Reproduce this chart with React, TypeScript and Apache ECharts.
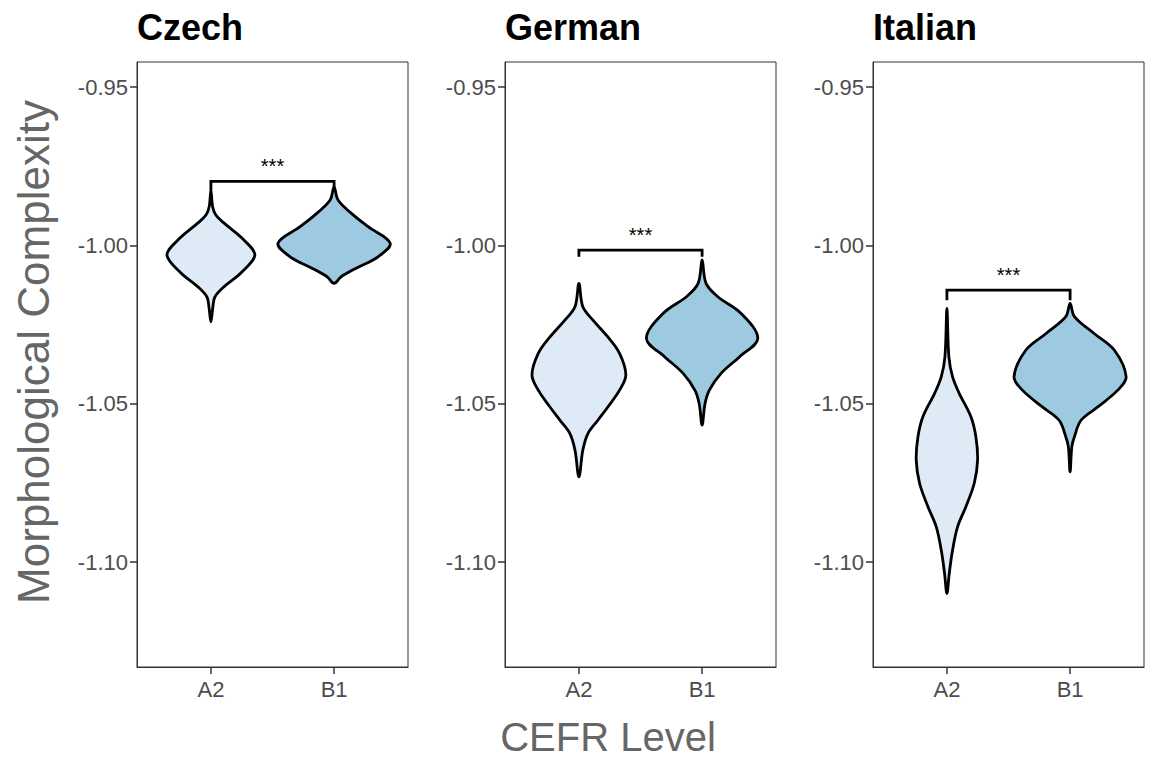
import React, { useEffect, useRef } from "react";
import * as echarts from "echarts";

const panels = ["Czech", "German", "Italian"];
const levels = ["A2", "B1"];
const yTicks = [-1.1, -1.05, -1.0, -0.95];
const xTicks = [1, 2];

// violin profiles: value (y) and half-width (in category units)
const czechA2Value = [-0.9825, -0.9878, -0.9904, -0.9929, -0.9983, -1.0031, -1.0087, -1.0131, -1.0163, -1.0194, -1.0241];
const czechA2Width = [0, 0.014, 0.04, 0.105, 0.268, 0.357, 0.243, 0.105, 0.032, 0.016, 0];
const czechB1Value = [-0.9815, -0.9857, -0.9898, -0.9941, -0.9993, -1.0036, -1.0072, -1.0099, -1.012];
const czechB1Width = [0, 0.032, 0.138, 0.276, 0.455, 0.357, 0.179, 0.057, 0];

const germanA2Value = [-1.012, -1.0194, -1.0236, -1.0289, -1.0341, -1.0409, -1.0457, -1.051, -1.0552, -1.0594, -1.0646, -1.0731];
const germanA2Width = [0, 0.032, 0.114, 0.235, 0.33, 0.381, 0.33, 0.235, 0.154, 0.073, 0.032, 0];
const germanB1Value = [-1.0046, -1.012, -1.0162, -1.0215, -1.0294, -1.0352, -1.0404, -1.0457, -1.0499, -1.0567];
const germanB1Width = [0, 0.032, 0.127, 0.317, 0.452, 0.303, 0.154, 0.059, 0.024, 0];

const italianA2Value = [-1.0199, -1.0352, -1.0415, -1.0467, -1.0541, -1.0604, -1.0678, -1.0751, -1.0825, -1.0888, -1.0962, -1.1036, -1.1099];
const italianA2Width = [0, 0.016, 0.046, 0.1, 0.195, 0.235, 0.249, 0.222, 0.154, 0.087, 0.046, 0.019, 0];
const italianB1Value = [-1.0183, -1.0225, -1.0278, -1.0331, -1.0415, -1.0457, -1.051, -1.0552, -1.0604, -1.0636, -1.0715];
const italianB1Width = [0, 0.035, 0.195, 0.36, 0.455, 0.387, 0.225, 0.089, 0.035, 0.014, 0];

const bracketY = [-0.9798, -1.0015, -1.0141];
const bracketTipY = [-0.9825, -1.0036, -1.0173];
const bracketLabel = ["***", "***", "***"];

const violins = [
  [
    { value: czechA2Value, width: czechA2Width },
    { value: czechB1Value, width: czechB1Width },
  ],
  [
    { value: germanA2Value, width: germanA2Width },
    { value: germanB1Value, width: germanB1Width },
  ],
  [
    { value: italianA2Value, width: italianA2Width },
    { value: italianB1Value, width: italianB1Width },
  ],
];

const fillColors = ["#deebf7", "#9ecae1"];
const FONT = "'Liberation Sans', Arial, Helvetica, sans-serif";
const Y_MIN = -1.1331;
const Y_MAX = -0.9421;
const gridLeft = [137, 505, 873];
const GRID_W = 271;
const GRID_TOP = 62;
const GRID_H = 605;

export default function App() {
  const ref = useRef<HTMLDivElement>(null);

  useEffect(() => {
    if (!ref.current) return;
    const chart = echarts.init(ref.current, undefined, { renderer: "svg" });

    const grids = panels.map((_, i) => ({
      left: gridLeft[i],
      top: GRID_TOP,
      width: GRID_W,
      height: GRID_H,
      show: true,
      borderColor: "#333333",
      borderWidth: 1,
      backgroundColor: "#ffffff",
    }));

    const xAxes = panels.map((_, i) => ({
      type: "value",
      gridIndex: i,
      min: 0.4,
      max: 2.6,
      axisLine: { show: true, lineStyle: { color: "#333333", width: 1 } },
      splitLine: { show: false },
      axisTick: { show: true, customValues: xTicks, length: 7, lineStyle: { color: "#333333", width: 1.5 } },
      axisLabel: {
        customValues: xTicks,
        formatter: (v: number) => levels[Math.round(v) - 1] ?? "",
        fontSize: 22,
        color: "#4d4d4d",
        fontFamily: FONT,
        margin: 11,
      },
    }));

    const yAxes = panels.map((_, i) => ({
      type: "value",
      gridIndex: i,
      min: Y_MIN,
      max: Y_MAX,
      axisLine: { show: true, lineStyle: { color: "#333333", width: 1 } },
      splitLine: { show: false },
      axisTick: { show: true, customValues: yTicks, length: 7, lineStyle: { color: "#333333", width: 1.5 } },
      axisLabel: {
        customValues: yTicks,
        formatter: (v: number) => v.toFixed(2),
        fontSize: 22,
        color: "#4d4d4d",
        fontFamily: FONT,
        margin: 9,
      },
    }));

    const violinSeries = panels.map((_, p) => ({
      type: "custom",
      xAxisIndex: p,
      yAxisIndex: p,
      data: levels.map((_, k) => [k + 1, violins[p][k].value[0]]),
      renderItem: (params: any, api: any) => {
        const cx = api.value(0);
        const k = Math.round(cx) - 1;
        const vi = violins[p][k];
        const pts: number[][] = [];
        for (let i = 0; i < vi.value.length; i++) {
          pts.push(api.coord([cx - vi.width[i], vi.value[i]]));
        }
        for (let i = vi.value.length - 1; i >= 0; i--) {
          if (vi.width[i] === 0) continue;
          pts.push(api.coord([cx + vi.width[i], vi.value[i]]));
        }
        return {
          type: "polygon",
          shape: { points: pts, smooth: 0.35 },
          style: { fill: fillColors[k], stroke: "#000000", lineWidth: 2.8, lineJoin: "round" },
        };
      },
    }));

    const bracketSeries = panels.map((_, p) => ({
      type: "custom",
      xAxisIndex: p,
      yAxisIndex: p,
      data: [[1.5, bracketY[p]]],
      renderItem: (params: any, api: any) => {
        const by = api.value(1);
        const a = api.coord([1, bracketTipY[p]]);
        const b = api.coord([1, by]);
        const c = api.coord([2, by]);
        const d = api.coord([2, bracketTipY[p]]);
        const m = api.coord([1.5, by]);
        return {
          type: "group",
          children: [
            {
              type: "polyline",
              shape: { points: [a, b, c, d] },
              style: { stroke: "#000000", lineWidth: 2.8, fill: null },
            },
            {
              type: "text",
              x: m[0],
              y: m[1] - 5,
              style: {
                text: bracketLabel[p],
                fontSize: 20,
                fontFamily: FONT,
                fill: "#000000",
                align: "center",
                verticalAlign: "bottom",
              },
            },
          ],
        };
      },
    }));

    chart.setOption({
      animation: false,
      backgroundColor: "#ffffff",
      title: panels.map((t, i) => ({
        text: t,
        left: gridLeft[i],
        top: 9,
        padding: 0,
        textStyle: { fontSize: 36, fontWeight: "bold", color: "#000000", fontFamily: FONT, lineHeight: 36 },
      })),
      grid: grids,
      xAxis: xAxes,
      yAxis: yAxes,
      series: [...violinSeries, ...bracketSeries],
      graphic: [
        {
          type: "text",
          x: 33,
          y: 352,
          rotation: Math.PI / 2,
          style: {
            text: "Morphological Complexity",
            fontSize: 44,
            lineHeight: 40,
            fontFamily: FONT,
            fill: "#666666",
            align: "center",
            verticalAlign: "middle",
          },
        },
        {
          type: "text",
          x: 608,
          y: 759,
          style: {
            text: "CEFR Level",
            fontSize: 40,
            lineHeight: 45,
            fontFamily: FONT,
            fill: "#666666",
            align: "center",
            verticalAlign: "bottom",
          },
        },
      ],
    });

    return () => chart.dispose();
  }, []);

  return (
    <div
      ref={ref}
      style={{ position: "absolute", left: 0, top: 0, width: 1150, height: 759 }}
    />
  );
}
